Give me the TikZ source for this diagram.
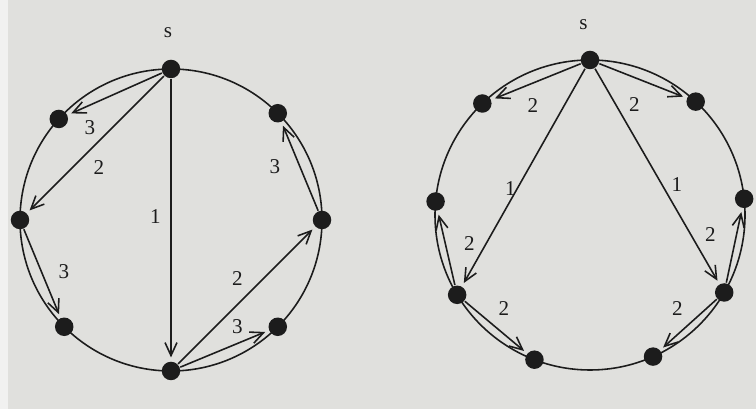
\documentclass[tikz,border=0pt]{standalone}
\usepackage{fontspec}
\setmainfont{Liberation Serif}
\usetikzlibrary{arrows.meta}
\definecolor{paper}{RGB}{224,224,221}
\definecolor{ink}{RGB}{28,28,28}
\tikzset{
  dot/.style={circle,fill=ink,inner sep=0pt,minimum size=0.37cm},
  msg/.style={->,shorten >=2pt},
  num/.style={text=ink,inner sep=1pt,font=\large},
}
\begin{document}
\begin{tikzpicture}[>={Straight Barb[length=2.6mm,width=2.4mm]},line width=0.9pt,color=ink]
\fill[paper] (0,0) rectangle (15.12,8.18);
\fill[paper!45!white] (0,0) rectangle (0.16,8.18);
\useasboundingbox (0,0) rectangle (15.12,8.18);

\begin{scope}[shift={(3.42,3.78)}]
\draw (0,0) circle (3.02);
\foreach \a/\n in {90/s,138/a,180/b,225/c,270/d,315/e,0/f,45/g}
    \node[dot] (l\n) at (\a:3.02) {};
\node[num] (ltag) at (-0.06,3.74) {s};
\draw[msg] (ls) -- (la);
\draw[msg] (ls) -- (lb);
\draw[msg] (ls) -- (ld);
\draw[msg] (lb) -- (lc);
\draw[msg] (ld) -- (lf);
\draw[msg] (ld) -- (le);
\draw[msg] (lf) -- (lg);
\node[num] (lw1) at (-1.62,1.84) {3};
\node[num] (lw2) at (-1.44,1.04) {2};
\node[num] (lw3) at (-0.31,0.07) {1};
\node[num] (lw4) at (-2.14,-1.03) {3};
\node[num] (lw5) at (1.33,-1.17) {2};
\node[num] (lw6) at (1.33,-2.13) {3};
\node[num] (lw7) at (2.08,1.07) {3};
\end{scope}

\begin{scope}[shift={(11.80,3.88)}]
\draw (0,0) circle (3.10);
\foreach \a/\n in {90/s,134/a,175/b,211/c,249/d,294/e,330/f,6/g,47/h}
    \node[dot] (r\n) at (\a:3.10) {};
\node[num] (rtag) at (-0.13,3.80) {s};
\draw[msg] (rs) -- (ra);
\draw[msg] (rs) -- (rh);
\draw[msg] (rs) -- (rc);
\draw[msg] (rs) -- (rf);
\draw[msg] (rc) -- (rb);
\draw[msg] (rc) -- (rd);
\draw[msg] (rf) -- (rg);
\draw[msg] (rf) -- (re);
\node[num] (rw1) at (-1.14,2.18) {2};
\node[num] (rw2) at (0.89,2.20) {2};
\node[num] (rw3) at (-1.59,0.53) {1};
\node[num] (rw4) at (1.74,0.60) {1};
\node[num] (rw5) at (-2.41,-0.57) {2};
\node[num] (rw6) at (2.41,-0.40) {2};
\node[num] (rw7) at (-1.72,-1.87) {2};
\node[num] (rw8) at (1.75,-1.87) {2};
\end{scope}
\end{tikzpicture}
\end{document}
